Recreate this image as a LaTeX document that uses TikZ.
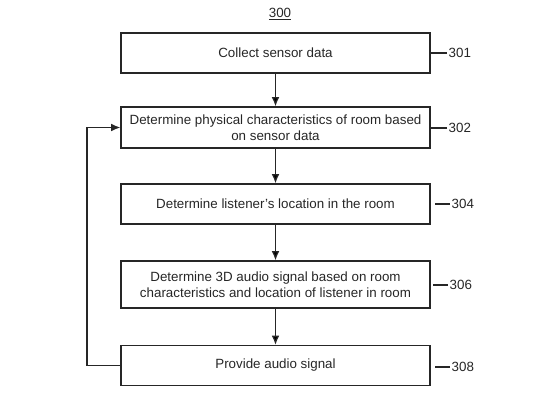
\documentclass[tikz,border=0pt]{standalone}
\usepackage{fontspec}
\setmainfont{Liberation Sans}
\usetikzlibrary{arrows,arrows.meta}

\begin{document}
\begin{tikzpicture}[->,>={Latex[length=6.5pt,width=5.5pt]},x=0.025cm,y=-0.025cm]
    \fontsize{9.5}{11}\selectfont
    \tikzstyle{box}=[draw=black!85,line width=0.9pt,rectangle,minimum width=7.725cm,minimum height=1cm,align=center,text=black!85]
    \tikzstyle{ref}=[draw=none,fill=none,text=black!85,inner sep=1pt,anchor=west]
    \tikzstyle{lead}=[-,draw=black!85,line width=0.9pt]
    \useasboundingbox (0,0) rectangle (550,413);

    \node[ref,anchor=center] (T300) at (280,14) {\underline{300}};
    \node[box] (CSD) at (275.5,53)  {Collect sensor data};
    \node[box,minimum height=1.025cm] (DPC) at (275.5,127.5) {Determine physical characteristics of room based\\on sensor data};
    \node[box] (DLL) at (275.5,204) {Determine listener's location in the room};
    \node[box,minimum height=1.175cm] (DAS) at (275.5,284.5) {Determine 3D audio signal based on room\\characteristics and location of listener in room};
    \node[box] (PAS) at (275.5,365.5) {Provide audio signal};

    \node[ref] (L301) at (447,53)  {301};
    \node[ref] (L302) at (447,128) {302};
    \node[ref] (L304) at (450,204) {304};
    \node[ref] (L306) at (448,285) {306};
    \node[ref] (L308) at (450,367) {308};
    \coordinate (fb) at (87,364);

    \path[every node/.style={anchor=south},draw=black!85,line width=0.9pt]
     (CSD) edge[->] (DPC)
     (DPC) edge[->] (DLL)
     (DLL) edge[->] (DAS)
     (DAS) edge[->] (PAS);
    \draw[->,draw=black!85,line width=0.9pt]
     (PAS.west) -- (PAS.west -| fb) |- (DPC.west);

    \draw[lead] (L301.west) -- (L301.west -| CSD.east);
    \draw[lead] (L302.west) -- (L302.west -| DPC.east);
    \draw[lead,shorten >=3pt] (L304.west) -- (L304.west -| DLL.east);
    \draw[lead,shorten >=2pt] (L306.west) -- (L306.west -| DAS.east);
    \draw[lead,shorten >=3pt] (L308.west) -- (L308.west -| PAS.east);
\end{tikzpicture}
\end{document}
